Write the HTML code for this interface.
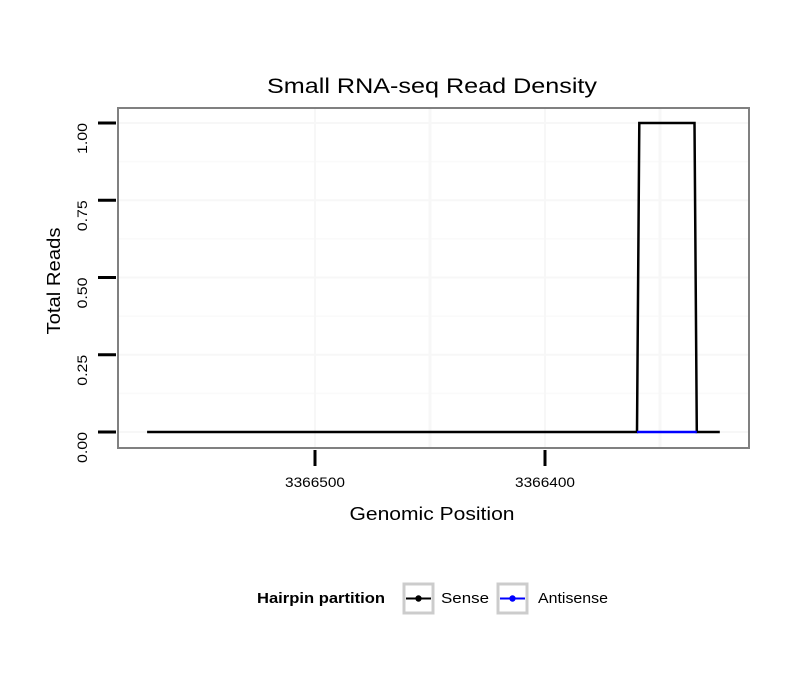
<!DOCTYPE html>
<html><head><meta charset="utf-8"><style>
body{margin:0;background:#fff}
svg text{font-family:"Liberation Sans",sans-serif}
</style></head><body>
<svg width="810" height="690">
<rect width="810" height="690" fill="#fff"/>
<text x="432" y="93" font-size="21" text-anchor="middle" textLength="330" lengthAdjust="spacingAndGlyphs">Small RNA-seq Read Density</text>
<g id="grid"></g>
<g id="series"></g>
<rect x="118" y="108" width="631" height="340" fill="none" stroke="#808080" stroke-width="2"/>
<g id="axes"></g>
<text x="432" y="520" font-size="18" text-anchor="middle" textLength="165" lengthAdjust="spacingAndGlyphs">Genomic Position</text>
<text transform="translate(60,281) rotate(-90)" font-size="18" text-anchor="middle" textLength="107" lengthAdjust="spacingAndGlyphs">Total Reads</text>
<g>
<text x="257" y="603" font-size="15" font-weight="bold" textLength="128" lengthAdjust="spacingAndGlyphs">Hairpin partition</text>
<g>
<rect x="404" y="584" width="29" height="29" fill="#fff" stroke="#ccc" stroke-width="3"/>
<line x1="406" y1="598.5" x2="431" y2="598.5" stroke="#000" stroke-width="2"/><circle cx="418.5" cy="598.5" r="3.2" fill="#000"/>
<text x="441" y="603" font-size="15" textLength="48" lengthAdjust="spacingAndGlyphs">Sense</text></g>
<g>
<rect x="498" y="584" width="29" height="29" fill="#fff" stroke="#ccc" stroke-width="3"/>
<line x1="500" y1="598.5" x2="525" y2="598.5" stroke="#00f" stroke-width="2"/><circle cx="512.5" cy="598.5" r="3.2" fill="#00f"/>
<text x="538" y="603" font-size="15" textLength="70" lengthAdjust="spacingAndGlyphs">Antisense</text></g>
</g>
</svg>
<script>
const xTicks=[3366500,3366400];
const xMinor=[3366450,3366350];
const yTicks=[0,0.25,0.5,0.75,1];
const yTickLabels=["0.00","0.25","0.50","0.75","1.00"];
const sensePos=[3366573,3366360,3366359,3366335,3366334,3366324];
const senseVal=[0,0,1,1,0,0];
const antiPos=[3366360,3366334];
const antiVal=[0,0];
const NS="http://www.w3.org/2000/svg";
function X(p){return 315+(3366500-p)*2.3;}
function Y(v){return 432-v*309;}
function mk(t,a,parent){const e=document.createElementNS(NS,t);for(const k in a)e.setAttribute(k,a[k]);document.getElementById(parent).appendChild(e);return e;}
yTicks.forEach((v,i)=>{const l=mk('line',{x1:118,x2:749,y1:Y(v),y2:Y(v),stroke:'#f7f7f7','stroke-width':2},'grid');


if(i<yTicks.length-1){const m=mk('line',{x1:118,x2:749,y1:Y(v+0.125),y2:Y(v+0.125),stroke:'#fafafa','stroke-width':1.5},'grid');

}
const t=mk('line',{x1:98,x2:116,y1:Y(v),y2:Y(v),stroke:'#000','stroke-width':3},'axes');


const tx=mk('text',{transform:`translate(${87},${Y(v)}) rotate(-90)`,'font-size':14,'text-anchor':'end',textLength:31,lengthAdjust:'spacingAndGlyphs'},'axes');tx.textContent=yTickLabels[i];

});
xTicks.forEach(p=>{const l=mk('line',{x1:X(p),x2:X(p),y1:108,y2:448,stroke:'#f7f7f7','stroke-width':2},'grid');


const t=mk('line',{x1:X(p),x2:X(p),y1:450,y2:466,stroke:'#000','stroke-width':3},'axes');


const tx=mk('text',{x:X(p),y:487,'font-size':14,'text-anchor':'middle',textLength:60,lengthAdjust:'spacingAndGlyphs'},'axes');tx.textContent=p;

});
xMinor.forEach(p=>{const l=mk('line',{x1:X(p),x2:X(p),y1:108,y2:448,stroke:'#f7f7f7','stroke-width':3},'grid');

});
function line(ps,vs,c,name){const d=ps.map((p,i)=>(i?'L':'M')+X(p)+','+Y(vs[i])).join('');
const e=mk('path',{d:d,fill:'none',stroke:c,'stroke-width':2.5},'series');

}
line(sensePos,senseVal,'#000','sense-line');
line(antiPos,antiVal,'#00f','antisense-line');
</script>
</body></html>
